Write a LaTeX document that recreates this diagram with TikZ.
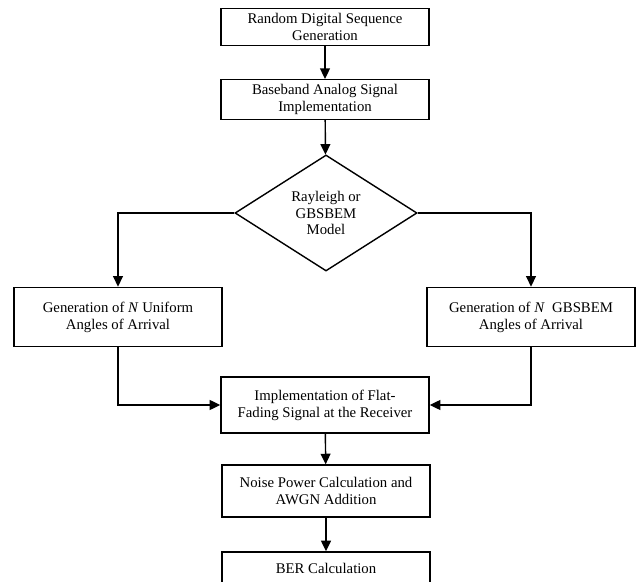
\documentclass[tikz,border=0pt]{standalone}
\usepackage{fontspec}
\setmainfont{Liberation Serif}
\usetikzlibrary{shapes.geometric,arrows.meta}
\begin{document}
\begin{tikzpicture}[x=0.025cm, y=-0.025cm, line width=1pt, >={Triangle[length=7.5pt,width=7pt]},
  block node/.style={rectangle,draw,align=center,minimum width=5.2cm,font=\fontsize{10.5}{12}\selectfont},
  decision node/.style={diamond,draw,align=center,minimum width=4.55cm,minimum height=2.9cm,inner sep=0pt,font=\fontsize{10.5}{12}\selectfont}]
\useasboundingbox (0,0) rectangle (636,582);
\node[block node, minimum height=0.85cm] (rand) at (325,27) {Random Digital Sequence\\Generation};
\node[block node, minimum height=0.82cm] (base) at (325,99.5) {Baseband Analog Signal\\Implementation};
\node[decision node] (model) at (326,213) {Rayleigh or\\GBSBEM\\Model};
\node[block node, minimum height=1.48cm] (unif) at (118,317) {Generation of \textit{N} Uniform\\Angles of Arrival};
\node[block node, minimum height=1.48cm] (gbs) at (531,317) {Generation of \textit{N}\ \ GBSBEM\\Angles of Arrival};
\node[block node, minimum height=1.4cm] (flat) at (325,405) {Implementation of Flat-\\Fading Signal at the Receiver};
\node[block node, minimum height=1.3cm] (noise) at (326,491) {Noise Power Calculation and\\AWGN Addition};
\node[block node, minimum height=0.8cm] (ber) at (326,568) {BER Calculation};
\draw[->] (rand) -- (base);
\draw[->] (base) -- (model);
\draw[->] (model.west) -| (unif.north);
\draw[->] (model.east) -| (gbs.north);
\draw[->] (unif.south) |- (flat.west);
\draw[->] (gbs.south) |- (flat.east);
\draw[->] (flat) -- (noise);
\draw[->] (noise) -- (ber);
\end{tikzpicture}
\end{document}
